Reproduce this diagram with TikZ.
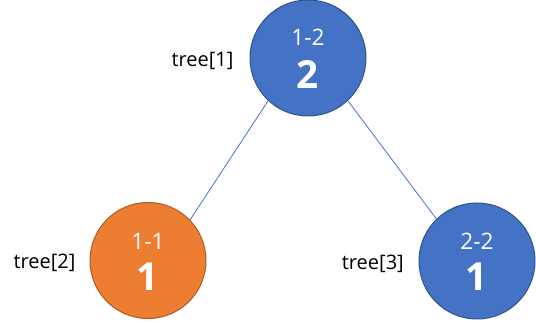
\documentclass[tikz,border=0pt]{standalone}
\usepackage{fontspec}
\setmainfont{Open Sans}
\usetikzlibrary{positioning}
\definecolor{nodeblue}{HTML}{4472C4}
\definecolor{blueedge}{HTML}{2F528F}
\definecolor{nodeorange}{HTML}{ED7D31}
\definecolor{orangeedge}{HTML}{AE5A21}
\begin{document}
\begin{tikzpicture}[x=0.75pt,y=0.75pt,
    seg/.style={circle,minimum size=87pt,inner sep=0pt,line width=0.75pt},
    segtext/.style={text=white,font=\fontsize{17}{17}\selectfont},
    val/.style={text=white,font=\fontsize{29}{29}\selectfont\bfseries},
    idx/.style={font=\fontsize{15}{15}\selectfont},
    link/.style={nodeblue,line width=0.6pt}]
    \useasboundingbox (0,0) rectangle (536,323);
    % Root
    \node[seg,fill=nodeblue,draw=blueedge] (tree1) at (308,265) {};
    \node[segtext] (range1) at ([yshift=15.5pt]tree1.center) {1-2};
    \node[val] (val1) at ([yshift=-12.5pt]tree1.center) {2};
    \node[idx,left=8.5pt of tree1,yshift=-2pt] (idx1) {tree[1]};
    % Left child
    \node[seg,fill=nodeorange,draw=orangeedge] (tree2) at (148,62.5) {};
    \node[segtext] (range2) at ([yshift=14.5pt]tree2.center) {1-1};
    \node[val] (val2) at ([yshift=-12pt]tree2.center) {1};
    \node[idx,left=7pt of tree2,yshift=-2pt] (idx2) {tree[2]};
    % Right child
    \node[seg,fill=nodeblue,draw=blueedge] (tree3) at (477,62) {};
    \node[segtext] (range3) at ([yshift=14.5pt]tree3.center) {2-2};
    \node[val] (val3) at ([yshift=-12pt]tree3.center) {1};
    \node[idx,left=7.5pt of tree3,yshift=-2pt] (idx3) {tree[3]};
    % Links
    \draw[link] (tree1.227) -- (tree2.44);
    \draw[link] (tree1.313) -- (tree3.134);
\end{tikzpicture}
\end{document}
